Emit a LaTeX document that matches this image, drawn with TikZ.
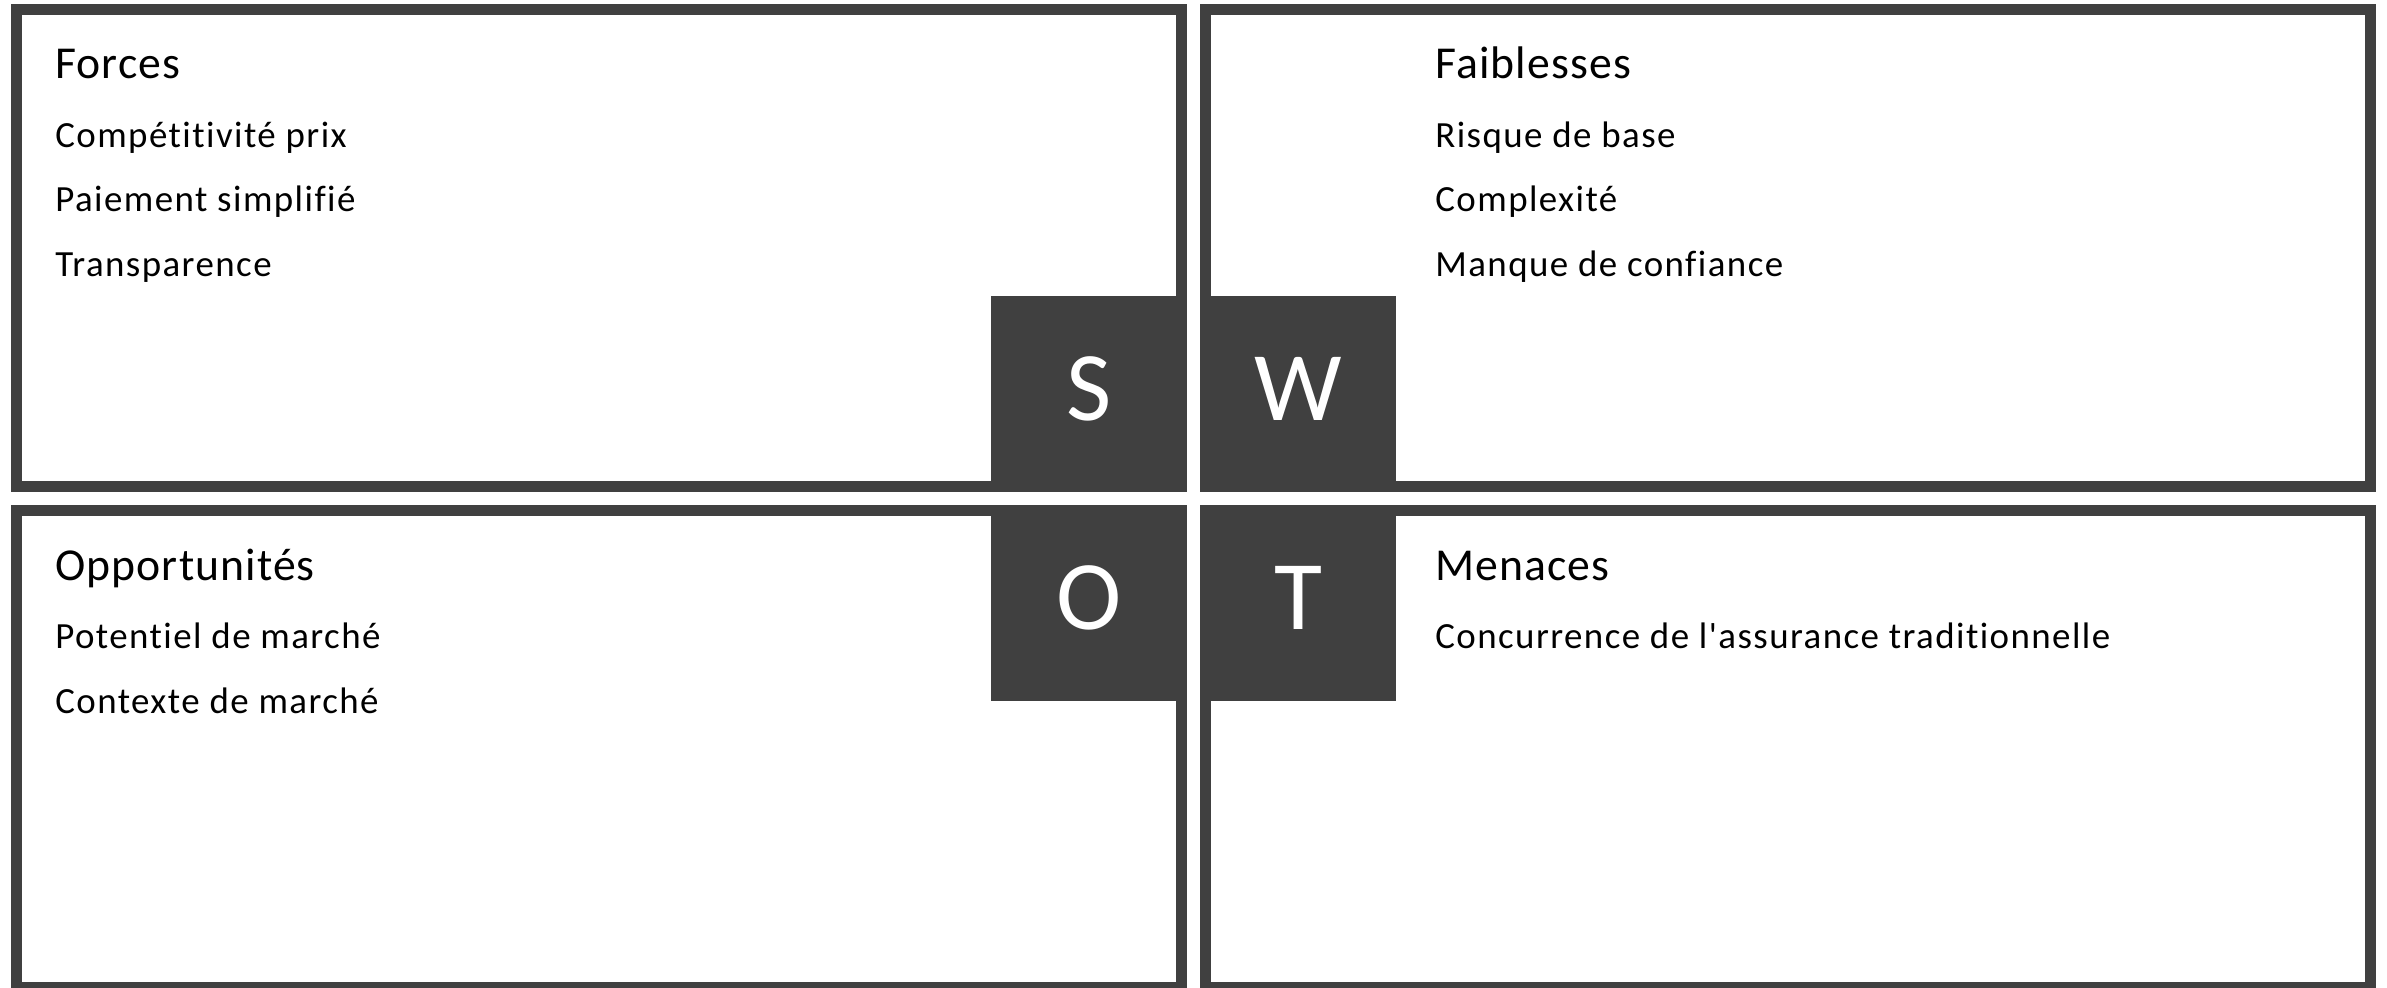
\documentclass[tikz,border=0pt]{standalone}
\usepackage{fontspec}
\setmainfont{Carlito}[Ligatures={TeXOff,CommonOff}]
\newfontfamily\headfont{Carlito}[Ligatures={TeXOff,CommonOff}, LetterSpace=2.4]
\newfontfamily\entryfont{Carlito}[Ligatures={TeXOff,CommonOff}, LetterSpace=3.9]
\usepackage{tikz}
\usetikzlibrary{positioning}
\definecolor{swotgray}{RGB}{64,64,64}
\tikzstyle{quadrant} = [rectangle, draw=swotgray, line width=0.22cm, minimum width=23.3cm, minimum height=9.54cm, inner sep=0pt]
\tikzstyle{letterbox} = [rectangle, fill=swotgray, minimum size=3.92cm, inner sep=0pt, outer sep=0pt, text=white, text depth=0.2cm, font=\fontsize{56}{60}\selectfont]
\tikzstyle{heading} = [anchor=base west, inner sep=0pt, font=\headfont\fontsize{26}{30}\selectfont]
\tikzstyle{entry} = [anchor=base west, inner sep=0pt, font=\entryfont\fontsize{21}{25}\selectfont]

\begin{document}
\begin{tikzpicture}[node distance=0.26cm]
    \useasboundingbox (0,0) rectangle (47.74,-19.74);

    % quadrants
    \node (strength) [quadrant] at (11.98,-4.96) {};
    \node (weakness) [quadrant] at (35.76,-4.96) {};
    \node (opportunity) [quadrant] at (11.98,-14.98) {};
    \node (threat) [quadrant] at (35.76,-14.98) {};

    % letter boxes
    \node (s) [letterbox] at (21.78,-7.88) {S};
    \node (w) [letterbox, right=of s] {W};
    \node (o) [letterbox, below=of s] {O};
    \node (t) [letterbox, below=of w] {T};

    % texts
    \node (forces) [heading] at (1.10,-1.57) {Forces};
    \node (f1) [below=1.37cm of forces.base west, entry] {Compétitivité prix};
    \node (f2) [below=1.29cm of f1.base west, entry] {Paiement simplifié};
    \node (f3) [below=1.29cm of f2.base west, entry] {Transparence};

    \node (faiblesses) [heading] at (28.70,-1.57) {Faiblesses};
    \node (w1) [below=1.37cm of faiblesses.base west, entry] {Risque de base};
    \node (w2) [below=1.29cm of w1.base west, entry] {Complexité};
    \node (w3) [below=1.29cm of w2.base west, entry] {Manque de confiance};

    \node (opportunites) [heading] at (1.10,-11.61) {Opportunités};
    \node (o1) [below=1.36cm of opportunites.base west, entry] {Potentiel de marché};
    \node (o2) [below=1.29cm of o1.base west, entry] {Contexte de marché};

    \node (menaces) [heading] at (28.70,-11.61) {Menaces};
    \node (t1) [below=1.36cm of menaces.base west, entry] {Concurrence de l'assurance traditionnelle};

\end{tikzpicture}
\end{document}
